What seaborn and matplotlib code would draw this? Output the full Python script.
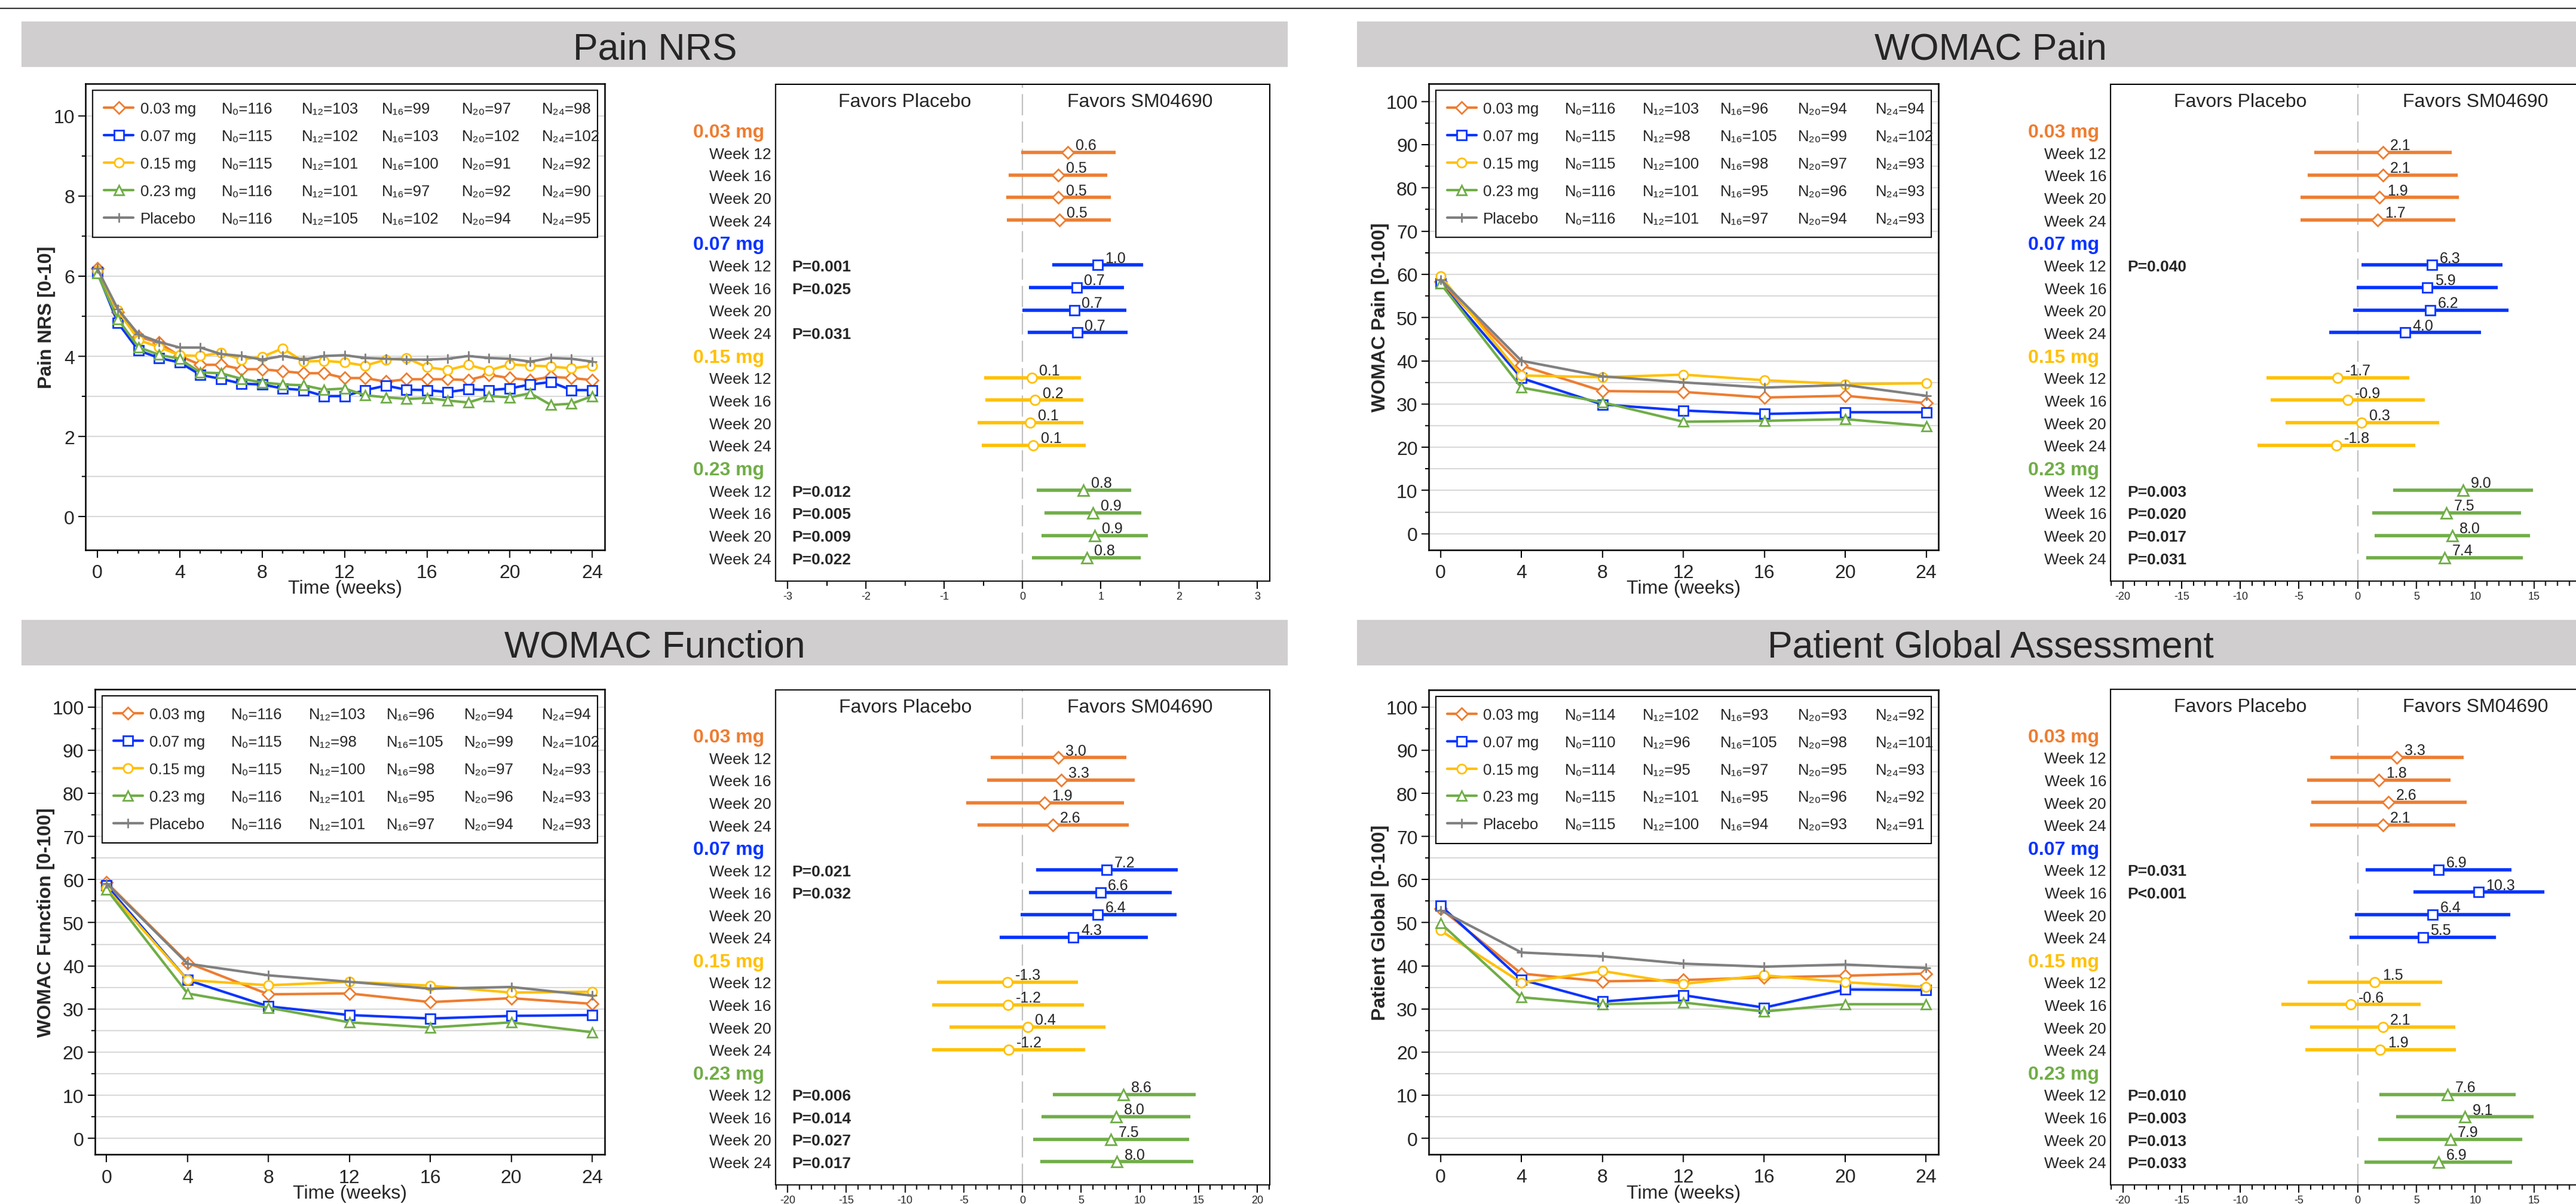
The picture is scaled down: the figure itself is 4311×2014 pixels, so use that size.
import matplotlib
matplotlib.use("Agg")
import matplotlib.pyplot as plt
import seaborn as sns
from matplotlib.lines import Line2D
from matplotlib.patches import Rectangle
from matplotlib.ticker import MultipleLocator

# canvas in pixels, dpi 100
W, H = 4311, 2015

DOSES = ["0.03 mg", "0.07 mg", "0.15 mg", "0.23 mg", "Placebo"]
COLORS = ["#ED7D31", "#0433FF", "#FFC000", "#70AD47", "#808080"]
MARKERS = ["D", "s", "o", "^", "+"]
MSIZE = [10, 11, 11, 12, 12]
WEEK_LABELS = ["Week 12", "Week 16", "Week 20", "Week 24"]
N_VISITS = ["0", "12", "16", "20", "24"]

# ---------------- Pain NRS (weekly means) ----------------
nrs_weeks = list(range(25))
nrs_003 = [6.20, 5.10, 4.49, 4.34, 4.01, 3.79, 3.79, 3.68, 3.68, 3.63, 3.58, 3.58, 3.46,
           3.46, 3.37, 3.43, 3.43, 3.43, 3.41, 3.54, 3.46, 3.41, 3.49, 3.46, 3.41]
nrs_007 = [6.10, 4.84, 4.15, 3.96, 3.85, 3.54, 3.44, 3.32, 3.30, 3.20, 3.16, 3.01, 3.01,
           3.16, 3.27, 3.17, 3.16, 3.11, 3.18, 3.16, 3.20, 3.30, 3.36, 3.16, 3.16]
nrs_015 = [6.13, 5.15, 4.41, 4.23, 4.03, 4.01, 4.09, 3.92, 3.99, 4.20, 3.87, 3.89, 3.85,
           3.77, 3.92, 3.96, 3.73, 3.66, 3.79, 3.65, 3.80, 3.77, 3.75, 3.70, 3.77]
nrs_023 = [6.07, 4.93, 4.23, 4.04, 3.94, 3.60, 3.58, 3.44, 3.35, 3.30, 3.28, 3.17, 3.20,
           3.03, 2.98, 2.94, 2.96, 2.90, 2.85, 3.01, 2.98, 3.08, 2.79, 2.82, 3.01]
nrs_pbo = [6.19, 5.18, 4.55, 4.36, 4.22, 4.22, 4.06, 4.01, 3.92, 4.01, 3.92, 4.01, 4.03,
           3.96, 3.94, 3.92, 3.92, 3.94, 4.01, 3.96, 3.94, 3.87, 3.96, 3.94, 3.87]
nrs_n = [[116, 103, 99, 97, 98], [115, 102, 103, 102, 102], [115, 101, 100, 91, 92],
         [116, 101, 97, 92, 90], [116, 105, 102, 94, 95]]
nrs_est = [[0.58, 0.46, 0.46, 0.47], [0.96, 0.69, 0.66, 0.70],
           [0.12, 0.16, 0.10, 0.14], [0.78, 0.90, 0.92, 0.82]]
nrs_lo = [[-0.02, -0.18, -0.21, -0.20], [0.38, 0.085, 0.0, 0.07],
          [-0.49, -0.475, -0.57, -0.52], [0.18, 0.28, 0.24, 0.12]]
nrs_hi = [[1.19, 1.08, 1.13, 1.13], [1.54, 1.30, 1.33, 1.34],
          [0.75, 0.78, 0.78, 0.81], [1.39, 1.52, 1.60, 1.51]]
nrs_p = [[None] * 4, ["P=0.001", "P=0.025", None, "P=0.031"],
         [None] * 4, ["P=0.012", "P=0.005", "P=0.009", "P=0.022"]]

# ---------------- visits for the WOMAC / PGA panels ----------------
visit_weeks = [0, 4, 8, 12, 16, 20, 24]

# WOMAC Pain
wp_003 = [58.3, 38.9, 33.0, 32.8, 31.5, 31.9, 30.2]
wp_007 = [57.9, 36.0, 29.9, 28.5, 27.7, 28.1, 28.1]
wp_015 = [59.6, 36.6, 36.2, 36.8, 35.5, 34.6, 34.8]
wp_023 = [57.9, 33.8, 30.4, 25.9, 26.1, 26.5, 24.9]
wp_pbo = [58.8, 40.0, 36.4, 35.0, 33.8, 34.4, 31.9]
wp_n = [[116, 103, 96, 94, 94], [115, 98, 105, 99, 102], [115, 100, 98, 97, 93],
        [116, 101, 95, 96, 93], [116, 101, 97, 94, 93]]
wp_est = [[2.13, 2.13, 1.86, 1.69], [6.33, 5.92, 6.19, 4.02],
          [-1.72, -0.86, 0.34, -1.82], [8.98, 7.53, 8.03, 7.40]]
wp_lo = [[-3.72, -4.27, -4.85, -4.88], [0.31, -0.07, -0.38, -2.41],
         [-7.77, -7.43, -6.16, -8.53], [3.03, 1.24, 1.44, 0.72]]
wp_hi = [[7.98, 8.50, 8.63, 8.32], [12.35, 11.94, 12.83, 10.49],
         [4.37, 5.71, 6.91, 4.88], [14.93, 13.90, 14.69, 14.07]]
wp_p = [[None] * 4, ["P=0.040", None, None, None],
        [None] * 4, ["P=0.003", "P=0.020", "P=0.017", "P=0.031"]]

# WOMAC Function
wf_003 = [59.3, 40.7, 33.4, 33.6, 31.6, 32.5, 31.2]
wf_007 = [58.6, 36.7, 30.6, 28.6, 27.8, 28.4, 28.6]
wf_015 = [57.9, 36.7, 35.5, 36.3, 35.4, 33.8, 34.0]
wf_023 = [57.7, 33.6, 30.3, 26.9, 25.7, 26.9, 24.6]
wf_pbo = [59.1, 40.5, 37.8, 36.3, 34.7, 35.1, 33.1]
wf_n = [[116, 103, 96, 94, 94], [115, 98, 105, 99, 102], [115, 100, 98, 97, 93],
        [116, 101, 95, 96, 93], [116, 101, 97, 94, 93]]
wf_est = [[3.04, 3.28, 1.86, 2.57], [7.17, 6.64, 6.42, 4.34],
          [-1.28, -1.22, 0.43, -1.18], [8.62, 7.99, 7.53, 8.03]]
wf_lo = [[-2.71, -3.00, -4.78, -3.82], [1.18, 0.57, -0.18, -1.96],
         [-7.28, -7.67, -6.21, -7.67], [2.60, 1.64, 0.89, 1.53]]
wf_hi = [[8.85, 9.56, 8.67, 9.06], [13.24, 12.70, 13.13, 10.70],
         [4.74, 5.21, 7.06, 5.32], [14.73, 14.31, 14.20, 14.56]]
wf_p = [[None] * 4, ["P=0.021", "P=0.032", None, None],
        [None] * 4, ["P=0.006", "P=0.014", "P=0.027", "P=0.017"]]

# Patient Global Assessment
pg_003 = [53.3, 38.2, 36.4, 36.7, 37.3, 37.7, 38.2]
pg_007 = [54.0, 36.8, 31.7, 33.2, 30.3, 34.5, 34.4]
pg_015 = [48.2, 36.1, 38.8, 35.8, 37.8, 36.2, 35.1]
pg_023 = [49.9, 32.7, 31.1, 31.5, 29.4, 31.1, 31.1]
pg_pbo = [52.9, 43.1, 42.2, 40.5, 39.8, 40.3, 39.5]
pg_n = [[114, 102, 93, 93, 92], [110, 96, 105, 98, 101], [114, 95, 97, 95, 93],
        [115, 101, 95, 96, 92], [115, 100, 94, 93, 91]]
pg_est = [[3.34, 1.79, 2.61, 2.13], [6.88, 10.29, 6.36, 5.54],
          [1.46, -0.58, 2.13, 1.92], [7.64, 9.12, 7.88, 6.88]]
pg_lo = [[-2.34, -4.30, -3.96, -4.06], [0.65, 4.75, -0.24, -0.69],
         [-4.27, -6.50, -4.06, -4.44], [1.86, 3.27, 1.72, 0.58]]
pg_hi = [[9.01, 7.91, 9.25, 8.32], [13.07, 15.89, 13.00, 11.76],
         [7.19, 5.33, 8.32, 8.36], [13.42, 14.96, 14.00, 13.14]]
pg_p = [[None] * 4, ["P=0.031", "P<0.001", None, None],
        [None] * 4, ["P=0.010", "P=0.003", "P=0.013", "P=0.033"]]

# forest x ticks (the right column is cropped by the canvas edge past 15)
nrs_xticks = [-3, -2, -1, 0, 1, 2, 3]
womac_xticks = [-20, -15, -10, -5, 0, 5, 10, 15, 20]
womac_xticks_cropped = [-20, -15, -10, -5, 0, 5, 10, 15]

SUB = str.maketrans("0123456789", "₀₁₂₃₄₅₆₇₈₉")

sns.set_theme(style="ticks")
plt.rcParams["font.family"] = ["Liberation Sans", "DejaVu Sans"]
plt.rcParams["axes.unicode_minus"] = False

fig = plt.figure(figsize=(W / 100, H / 100), dpi=100)
fig.patch.set_facecolor("white")


def px_axes(left, top, right, bottom):
    return fig.add_axes([left / W, 1 - bottom / H, (right - left) / W, (bottom - top) / H])


def style_spines(ax, lw):
    for s in ax.spines.values():
        s.set_visible(True)
        s.set_color("black")
        s.set_linewidth(lw)


legend_jobs = []


def line_panel(box, weeks, series, ns, ylabel, xlim, ylim, ymaj, ymin, xminor, ylab_off):
    ax = px_axes(*box)
    axw = box[2] - box[0]
    axh = box[3] - box[1]
    style_spines(ax, 1.8)
    ax.set_xlim(*xlim)
    ax.set_ylim(*ylim)
    ax.xaxis.set_major_locator(MultipleLocator(4))
    if xminor:
        ax.xaxis.set_minor_locator(MultipleLocator(1))
    ax.yaxis.set_major_locator(MultipleLocator(ymaj))
    ax.yaxis.set_minor_locator(MultipleLocator(ymin))
    ax.grid(True, which="both", axis="y", color="#D9D9D9", lw=1.5)
    ax.set_axisbelow(True)
    ax.tick_params(which="major", length=9, width=1.5, labelsize=23, color="black")
    ax.tick_params(which="minor", length=4.5, width=1.5, color="black")
    ax.tick_params(axis="x", which="major", pad=8)
    ax.tick_params(axis="y", which="major", pad=4)

    handles = []
    for vals, c, m, ms in zip(series, COLORS, MARKERS, MSIZE):
        sns.lineplot(x=weeks, y=vals, ax=ax, color=c, linewidth=3, marker=m,
                     markersize=ms, markerfacecolor="white", markeredgecolor=c,
                     markeredgewidth=2)
        handles.append(ax.lines[-1])

    ax.set_xlabel("Time (weeks)", fontsize=23)
    ax.xaxis.set_label_coords(0.5, -50 / axh)
    ax.set_ylabel(ylabel, fontsize=23, fontweight="bold")
    ax.yaxis.set_label_coords(-ylab_off / axw, 0.5)

    leg = ax.legend(handles, DOSES, loc="upper left",
                    bbox_to_anchor=(12 / axw, 0, (axw - 24) / axw, 1 - 11 / axh),
                    mode="expand", borderaxespad=0, fontsize=18.5, labelspacing=0.85,
                    borderpad=0.75, handlelength=1.9, handletextpad=0.45, numpoints=1,
                    frameon=True, fancybox=False, framealpha=1, edgecolor="black")
    leg.get_frame().set_linewidth(1.5)
    legend_jobs.append((ax, leg, ns, axw))
    return ax


def forest_panel(box, est, lo, hi, pvals, xmax, xticks, xmin, favor_x):
    ax = px_axes(*box)
    axw = box[2] - box[0]
    style_spines(ax, 1.5)
    ax.set_xlim(-xmax, xmax)
    ax.set_ylim(20.02, -2.03)
    ax.axvline(0, color="#BFBFBF", lw=1.5, dashes=(17, 5), zorder=1)
    ax.set_xticks(xticks)
    ax.xaxis.set_minor_locator(MultipleLocator(xmin))
    ax.tick_params(axis="x", which="major", length=9.4, width=1.5, labelsize=13, pad=3,
                   color="black")
    ax.tick_params(axis="x", which="minor", length=5.8, width=1.5, color="black")

    ytr = ax.get_yaxis_transform()
    week_rows = []
    for g in range(4):
        c = COLORS[g]
        rows = [5 * g + 1 + i for i in range(4)]
        week_rows += rows
        ax.hlines(rows, lo[g], hi[g], color=c, lw=4, zorder=2)
        ax.plot(est[g], rows, ls="none", marker=MARKERS[g], markersize=MSIZE[g] + 0.5,
                markerfacecolor="white", markeredgecolor=c, markeredgewidth=2, zorder=3)
        ax.text(-138 / axw, 5 * g, DOSES[g], transform=ytr, color=c, fontsize=23,
                fontweight="bold", ha="left", va="center_baseline")
        for r, e, p in zip(rows, est[g], pvals[g]):
            ax.annotate(f"{e:.1f}", (e, r), xytext=(9, 3.5), textcoords="offset points",
                        fontsize=18, ha="left", va="baseline", zorder=4)
            if p:
                ax.text(28 / axw, r, p, transform=ytr, fontsize=19, fontweight="bold",
                        ha="left", va="center_baseline")

    ax.set_yticks(week_rows, WEEK_LABELS * 4)
    ax.tick_params(axis="y", length=0, labelsize=19, pad=5)
    ax.text(-favor_x, -1.34, "Favors Placebo", fontsize=23, ha="center", va="center_baseline")
    ax.text(favor_x, -1.34, "Favors SM04690", fontsize=23, ha="center", va="center_baseline")
    return ax


# header rule and grey title bars
fig.add_artist(Line2D([0, 1], [1 - 15 / H] * 2, transform=fig.transFigure,
                      color="#333333", lw=1.5))
titles = [("Pain NRS", 36, 37), ("WOMAC Pain", 2271, 37),
          ("WOMAC Function", 36, 1038), ("Patient Global Assessment", 2271, 1038)]
for title, bx, by in titles:
    fig.add_artist(Rectangle((bx / W, 1 - (by + 76) / H), 2119 / W, 76 / H,
                             transform=fig.transFigure, color="#D0CECE", lw=0))
    fig.text((bx + 1060) / W, 1 - (by + 62) / H, title, fontsize=45, ha="center",
             va="baseline")

# Pain NRS
line_panel((143, 141, 1012, 920.5), nrs_weeks,
           [nrs_003, nrs_007, nrs_015, nrs_023, nrs_pbo], nrs_n, "Pain NRS [0-10]",
           (-0.57, 24.61), (-0.82, 10.8), 2, 1, True, 50)
forest_panel((1297.6, 142, 2124.7, 972.6), nrs_est, nrs_lo, nrs_hi, nrs_p,
             3.157, nrs_xticks, 0.5, 1.5)

# WOMAC Pain
line_panel((2390.6, 141, 3244.3, 920.5), visit_weeks,
           [wp_003, wp_007, wp_015, wp_023, wp_pbo], wp_n, "WOMAC Pain [0-100]",
           (-0.59, 24.61), (-3.7, 104.1), 10, 5, False, 66)
forest_panel((3532, 142, 4359.5, 972.6), wp_est, wp_lo, wp_hi, wp_p, 21.05,
             womac_xticks_cropped, 1, 10)

# WOMAC Function
line_panel((158.5, 1154, 1011.6, 1932), visit_weeks,
           [wf_003, wf_007, wf_015, wf_023, wf_pbo], wf_n, "WOMAC Function [0-100]",
           (-0.59, 24.61), (-3.7, 104.1), 10, 5, False, 66)
forest_panel((1297.6, 1154.6, 2124.7, 1982.7), wf_est, wf_lo, wf_hi, wf_p, 21.05,
             womac_xticks, 1, 10)

# Patient Global Assessment
line_panel((2390.6, 1154.6, 3244, 1931.8), visit_weeks,
           [pg_003, pg_007, pg_015, pg_023, pg_pbo], pg_n, "Patient Global [0-100]",
           (-0.59, 24.61), (-3.7, 104.05), 10, 5, False, 66)
forest_panel((3532, 1154, 4359.5, 1983), pg_est, pg_lo, pg_hi, pg_p, 21.05,
             womac_xticks_cropped, 1, 10)

# sample sizes next to the legend rows
fig.canvas.draw()
for ax, leg, ns, axw in legend_jobs:
    inv = ax.transAxes.inverted()
    x0 = 228 / axw
    x1 = (axw - 105) / axw
    xs = [x0 + (x1 - x0) * i / 4 for i in range(5)]
    for txt, row in zip(leg.get_texts(), ns):
        bb = txt.get_window_extent()
        yc = inv.transform((0, (bb.y0 + bb.y1) / 2))[1]
        for x, v, n in zip(xs, N_VISITS, row):
            ax.text(x, yc, f"N{v.translate(SUB)}={n}", transform=ax.transAxes,
                    fontsize=18.5, ha="left", va="center", zorder=10)

fig.savefig("out.png", dpi=100)
